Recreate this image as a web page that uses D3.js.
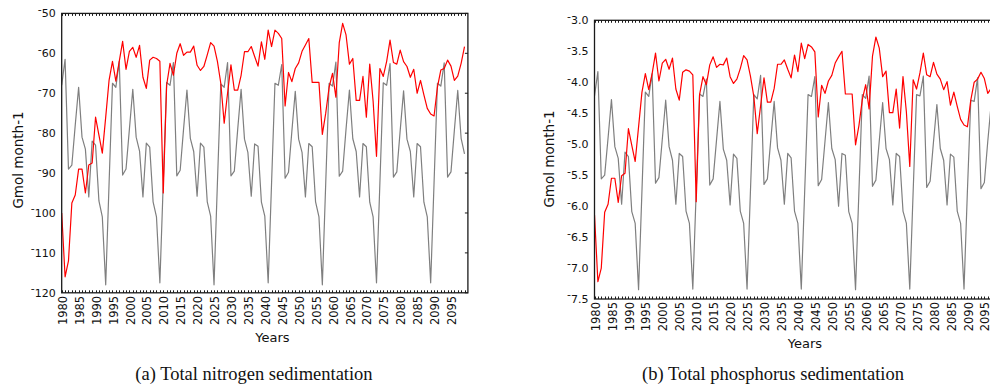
<!DOCTYPE html>
<html><head><meta charset="utf-8">
<script src="https://cdn.jsdelivr.net/npm/d3@7"></script>
<style>body{margin:0;background:#fff} svg{display:block}</style>
</head><body>
<svg id="chart" width="990" height="386"></svg>
<script>
// ---------- data ----------
const years = d3.range(1980, 2100);
const xTickYears = [1980,1985,1990,1995,2000,2005,2010,2015,2020,2025,2030,2035,2040,2045,2050,2055,2060,2065,2070,2075,2080,2085,2090,2095];

const nitrogenRed = [
 -100,-116,-112,-97.5,-95.5,-89,-89,-95,-88,-87.5,
 -76,-80.5,-85,-76,-66.7,-62,-67,-62,-57,-64,
 -59.5,-58.5,-61,-58,-66,-68.8,-61.7,-61,-61.3,-62,
 -95,-68,-62.5,-65.5,-60,-57.6,-60.5,-59.7,-59.7,-58.2,
 -63,-64.3,-63.3,-60.4,-57.3,-58.2,-62,-67.5,-77.5,-70,
 -62.9,-69.2,-69.2,-65.5,-59.6,-59.6,-58.3,-60.8,-63.2,-57.1,
 -61.5,-54.2,-58.3,-54.2,-55,-56.3,-73.2,-64.8,-67.1,-63.8,
 -62.4,-59.5,-57.9,-56.3,-67.3,-67.3,-67.3,-80.3,-75,-68.5,
 -65,-71,-57.3,-52.5,-55.4,-62.7,-61.3,-71.8,-71.8,-65.8,
 -76,-62.7,-72,-85.8,-63.8,-65.8,-62,-56.7,-62.3,-62.7,
 -59.2,-62.1,-63.3,-66,-64,-70,-66.8,-70.4,-73.8,-75.2,
 -75.7,-68.5,-64.2,-63.8,-61.7,-63.2,-66.8,-65.7,-62.5,-58.3
];
const nitrogenGray = [
 -68,-61.5,-89,-88,-78,-68.5,-81,-84,-96,-82,-83,-97,-101,
 -118,-92.5,-67.5,-68.5,-62,-90.5,-89,-79,-69,-81,-84.5,-96,-82.5,-83.5,-97.2,-101,
 -117.5,-92.5,-67.3,-68,-62.3,-90.7,-89.3,-79,-69.2,-81.3,-84.6,-95.8,-82.5,-83.5,-97.2,-100.8,
 -118,-92.5,-67.7,-68.5,-62.3,-90.7,-89.5,-79,-69,-81.5,-84.8,-95.8,-82.7,-83.3,-97.3,-100.8,
 -117.5,-92.5,-67.5,-68,-62.8,-91.3,-89.8,-79.5,-69.5,-81.5,-84.8,-96,-82.6,-83.4,-97.2,-101,
 -118,-92.5,-67.5,-68.2,-62.2,-90.8,-89.5,-79,-69.2,-81.4,-84.6,-96,-82.6,-83.4,-97.3,-101,
 -117.5,-92.5,-67.4,-68,-62.6,-91,-89.7,-79.3,-69.4,-81.5,-84.6,-96,-82.6,-83.4,-97.3,-101,
 -117.5,-92.5,-67.5,-68.2,-62.4,-91,-89.7,-79.3,-69.3,-81.3,-85.2
];
const phosphorusRed = [
 -6.14,-7.22,-7.0,-6.1,-5.97,-5.55,-5.55,-5.94,-5.51,-5.47,
 -4.75,-5.02,-5.28,-4.72,-4.16,-3.86,-4.12,-3.86,-3.53,-3.98,
 -3.69,-3.63,-3.79,-3.61,-4.11,-4.29,-3.84,-3.8,-3.82,-3.88,
 -5.93,-4.2,-3.91,-4.04,-3.72,-3.59,-3.76,-3.71,-3.72,-3.61,
 -3.91,-4.02,-3.95,-3.78,-3.57,-3.64,-3.9,-4.23,-4.83,-4.38,
 -3.93,-4.32,-4.32,-4.1,-3.71,-3.71,-3.64,-3.79,-3.93,-3.56,
 -3.83,-3.37,-3.62,-3.39,-3.43,-3.51,-4.56,-4.05,-4.18,-3.98,
 -3.89,-3.69,-3.59,-3.5,-4.19,-4.19,-4.19,-5.01,-4.7,-4.28,
 -4.04,-4.43,-3.58,-3.27,-3.45,-3.91,-3.82,-4.49,-4.49,-4.11,
 -4.74,-3.91,-4.48,-5.36,-3.96,-4.11,-3.85,-3.53,-3.88,-3.91,
 -3.68,-3.87,-3.95,-4.12,-3.99,-4.37,-4.16,-4.39,-4.6,-4.69,
 -4.72,-4.29,-4.0,-3.95,-3.84,-3.94,-4.18,-4.1,-3.9,-3.63
];
const phosphorusGray = [
 -4.22,-3.83,-5.56,-5.5,-4.9,-4.28,-5.04,-5.23,-5.97,-5.13,-5.2,-6.09,-6.28,
 -7.35,-5.75,-4.16,-4.23,-3.86,-5.63,-5.54,-4.92,-4.29,-5.04,-5.26,-5.97,-5.15,-5.2,-6.08,-6.28,
 -7.34,-5.76,-4.19,-4.23,-3.95,-5.66,-5.56,-4.93,-4.31,-5.08,-5.26,-5.98,-5.16,-5.23,-6.08,-6.28,
 -7.34,-5.76,-4.2,-4.27,-3.89,-5.65,-5.56,-4.93,-4.31,-5.06,-5.26,-5.97,-5.15,-5.22,-6.08,-6.28,
 -7.34,-5.76,-4.2,-4.23,-3.91,-5.67,-5.57,-4.95,-4.33,-5.07,-5.25,-6.0,-5.15,-5.18,-6.09,-6.28,
 -7.35,-5.76,-4.2,-4.26,-3.9,-5.68,-5.58,-4.95,-4.33,-5.07,-5.25,-5.98,-5.15,-5.2,-6.08,-6.28,
 -7.34,-5.76,-4.2,-4.22,-3.9,-5.7,-5.6,-4.96,-4.36,-5.07,-5.26,-5.98,-5.16,-5.21,-6.08,-6.28,
 -7.34,-5.76,-4.29,-4.31,-3.93,-5.72,-5.62,-4.96,-4.36,-5.1,-5.3
];
const nitrogenTicks = [-50,-60,-70,-80,-90,-100,-110,-120];
const nitrogenTickLabels = ["-50","-60","-70","-80","-90","-100","-110","-120"];
const phosphorusTicks = [-3.0,-3.5,-4.0,-4.5,-5.0,-5.5,-6.0,-6.5,-7.0,-7.5];
const phosphorusTickLabels = ["-3.0","-3.5","-4.0","-4.5","-5.0","-5.5","-6.0","-6.5","-7.0","-7.5"];
const yAxisTitle = "Gmol month-1";
const xAxisTitle = "Years";
const captions = ["(a) Total nitrogen sedimentation", "(b) Total phosphorus sedimentation"];

// ---------- drawing ----------
const svg = d3.select("#chart");
const SANS = "DejaVu Sans, Bitstream Vera Sans, sans-serif";

const panels = [
  {left:61.7, right:467.9, top:13.4, bottom:292.8, domain:[-120,-50],
   ticks:nitrogenTicks, labels:nitrogenTickLabels, red:nitrogenRed, gray:nitrogenGray,
   ylabX:18, ylabY:160, xlabX:272.5, xlabY:341.7, capX:254, caption:captions[0]},
  {left:594.5, right:1001.3, top:20.3, bottom:299, domain:[-7.5,-3.0],
   ticks:phosphorusTicks, labels:phosphorusTickLabels, red:phosphorusRed, gray:phosphorusGray,
   ylabX:549.5, ylabY:159, xlabX:805, xlabY:348, capX:773, caption:captions[1]}
];

panels.forEach((p, pi) => {
  const x = d3.scaleLinear().domain([1980, 2100]).range([p.left, p.right]);
  const y = d3.scaleLinear().domain(p.domain).range([p.bottom, p.top]);
  const g = svg.append("g");

  const clipId = "clip" + pi;
  svg.append("clipPath").attr("id", clipId).append("rect")
    .attr("x", p.left).attr("y", p.top).attr("width", p.right - p.left).attr("height", p.bottom - p.top);

  const line = d3.line().x((d,i) => x(years[i])).y(d => y(d));
  const lines = g.append("g").attr("clip-path", `url(#${clipId})`);
  lines.append("path").datum(p.gray).attr("d", line)
    .attr("fill","none").attr("stroke","#7f7f7f").attr("stroke-width",1.2).attr("stroke-linejoin","round");
  lines.append("path").datum(p.red).attr("d", line)
    .attr("fill","none").attr("stroke","#ff0000").attr("stroke-width",1.2).attr("stroke-linejoin","round");

  // frame
  g.append("rect").attr("x", p.left).attr("y", p.top)
    .attr("width", p.right - p.left).attr("height", p.bottom - p.top)
    .attr("fill","none").attr("stroke","#1a1a1a").attr("stroke-width",1.3);

  // yearly minor ticks (inward) on top and bottom
  const minor = g.append("g").attr("stroke","#1a1a1a").attr("stroke-width",1);
  years.forEach(yr => {
    const xx = Math.round(x(yr)) + 0.5;
    minor.append("line").attr("x1",xx).attr("x2",xx).attr("y1",p.top).attr("y2",p.top+2.5);
    minor.append("line").attr("x1",xx).attr("x2",xx).attr("y1",p.bottom).attr("y2",p.bottom-2.5);
  });

  // right inward y ticks
  p.ticks.forEach(t => {
    g.append("line").attr("x1",p.right).attr("x2",p.right-3).attr("y1",y(t)).attr("y2",y(t))
      .attr("stroke","#1a1a1a").attr("stroke-width",1);
  });

  // y tick labels
  const yl = g.append("g").attr("font-family",SANS).attr("font-size",11).attr("fill","#111");
  p.ticks.forEach((t, i) => {
    const txt = p.labels[i];
    const tx = yl.append("text").attr("x", p.left - 6).attr("y", y(t)).attr("dy","0.36em")
      .attr("text-anchor","end");
    tx.append("tspan").attr("dy","-0.05em").text(txt.slice(0,1));
    tx.append("tspan").attr("dy","0.41em").text(txt.slice(1));
  });

  // x tick labels (rotated)
  const xl = g.append("g").attr("font-family",SANS).attr("font-size",11.5).attr("fill","#111");
  xTickYears.forEach(yr => {
    xl.append("text")
      .attr("transform", `translate(${x(yr)+1},${p.bottom+3}) rotate(-90)`)
      .attr("dy","0.36em").attr("text-anchor","end").text(String(yr));
  });

  // axis titles
  svg.append("text").attr("font-family",SANS).attr("font-size",13.5).attr("fill","#111")
    .attr("text-anchor","middle")
    .attr("transform",`translate(${p.ylabX},${p.ylabY}) rotate(-90)`).attr("dy","0.35em")
    .text(yAxisTitle);
  svg.append("text").attr("font-family",SANS).attr("font-size",13).attr("fill","#111")
    .attr("text-anchor","middle").attr("x", p.xlabX).attr("y", p.xlabY)
    .text(xAxisTitle);

  // caption
  svg.append("text").attr("font-family","Liberation Serif, Times New Roman, serif").attr("font-size",18.5)
    .attr("fill","#111").attr("text-anchor","middle").attr("x", p.capX).attr("y", 380)
    .text(p.caption);
});
</script>
</body></html>
